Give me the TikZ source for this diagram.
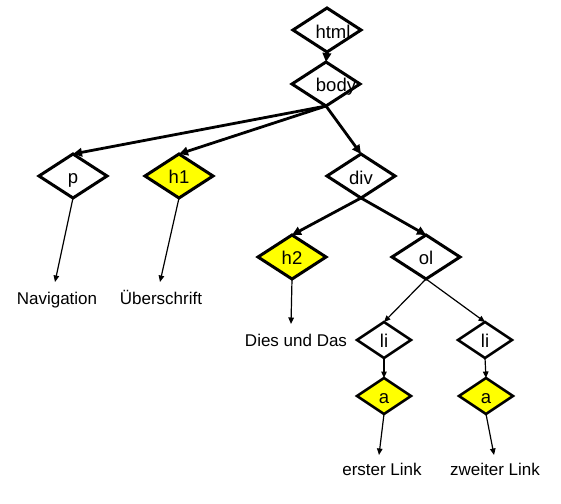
\documentclass[tikz,border=0pt]{standalone}
\usepackage{fontspec}
\setmainfont{Liberation Sans}
\usetikzlibrary{shapes.geometric,arrows.meta}
\definecolor{hlyellow}{RGB}{255,255,0}
\begin{document}
\begin{tikzpicture}[x=1pt,y=1pt,
  dia/.style={diamond,draw=black,line width=3pt,minimum width=68pt,minimum height=44pt,inner sep=0pt,outer sep=0pt},
  smalldia/.style={dia,line width=2.6pt,minimum width=54pt,minimum height=36pt},
  yel/.style={fill=hlyellow},
  wht/.style={fill=white},
  lbl/.style={font=\fontsize{18.5}{20}\selectfont,inner sep=0pt,anchor=base},
  leaf/.style={font=\fontsize{17}{19}\selectfont,inner sep=0pt,anchor=base},
  bigarrow/.style={line width=2.8pt,-{Triangle[length=9pt,width=8.5pt]}},
  thinarrow/.style={line width=1.2pt,-{Triangle[length=6.5pt,width=5.5pt]}}]
\useasboundingbox (0,0) rectangle (561,-503);

% diamonds
\node[dia,wht] (html) at (327,-30) {};
\node[dia,wht] (body) at (326,-84) {};
\node[dia,wht] (p) at (73,-176) {};
\node[dia,yel] (h1) at (179,-176) {};
\node[dia,wht] (div) at (361,-176) {};
\node[dia,yel] (h2) at (292,-257) {};
\node[dia,wht] (ol) at (426,-257) {};
\node[smalldia,wht] (li1) at (384,-340) {};
\node[smalldia,wht] (li2) at (485,-340) {};
\node[smalldia,yel] (a1) at (384,-396) {};
\node[smalldia,yel] (a2) at (486,-396) {};

% labels
\node[lbl] (thtml) at (333,-38) {html};
\node[lbl] (tbody) at (336,-91) {body};
\node[lbl] (tp) at (73,-183) {p};
\node[lbl] (th1) at (179,-183) {h1};
\node[lbl] (tdiv) at (361,-184) {div};
\node[lbl] (th2) at (292,-264) {h2};
\node[lbl] (tol) at (426,-264) {ol};
\node[lbl] (tli1) at (384,-347) {li};
\node[lbl] (tli2) at (485,-347) {li};
\node[lbl] (ta1) at (384,-403) {a};
\node[lbl] (ta2) at (486,-403) {a};

% leaf texts
\node[leaf] (nav) at (57,-304) {Navigation};
\node[leaf] (ueb) at (161,-304) {Überschrift};
\node[leaf] (dies) at (296,-346) {Dies und Das};
\node[leaf] (erst) at (382,-475) {erster Link};
\node[leaf] (zweit) at (495,-475) {zweiter Link};

\coordinate (navtip) at (55,-282);
\coordinate (uebtip) at (160,-282);
\coordinate (diestip) at (291,-324);
\coordinate (ersttip) at (379,-455);
\coordinate (zweittip) at (494,-455);

% connectors
\draw[bigarrow] (html.south) -- (body.north);
\draw[bigarrow] (body.south) -- (p.north);
\draw[bigarrow] (body.south) -- (h1.north);
\draw[bigarrow] (body.south) -- (div.north);
\draw[bigarrow] (div.south) -- (h2.north);
\draw[bigarrow] (div.south) -- (ol.north);
\draw[thinarrow] (ol.south) -- (li1.north);
\draw[thinarrow] (ol.south) -- (li2.north);
\draw[thinarrow] (li1.south) -- (a1.north);
\draw[thinarrow] (li2.south) -- (a2.north);
\draw[thinarrow] (p.south) -- (navtip);
\draw[thinarrow] (h1.south) -- (uebtip);
\draw[thinarrow] (h2.south) -- (diestip);
\draw[thinarrow] (a1.south) -- (ersttip);
\draw[thinarrow] (a2.south) -- (zweittip);
\end{tikzpicture}
\end{document}
